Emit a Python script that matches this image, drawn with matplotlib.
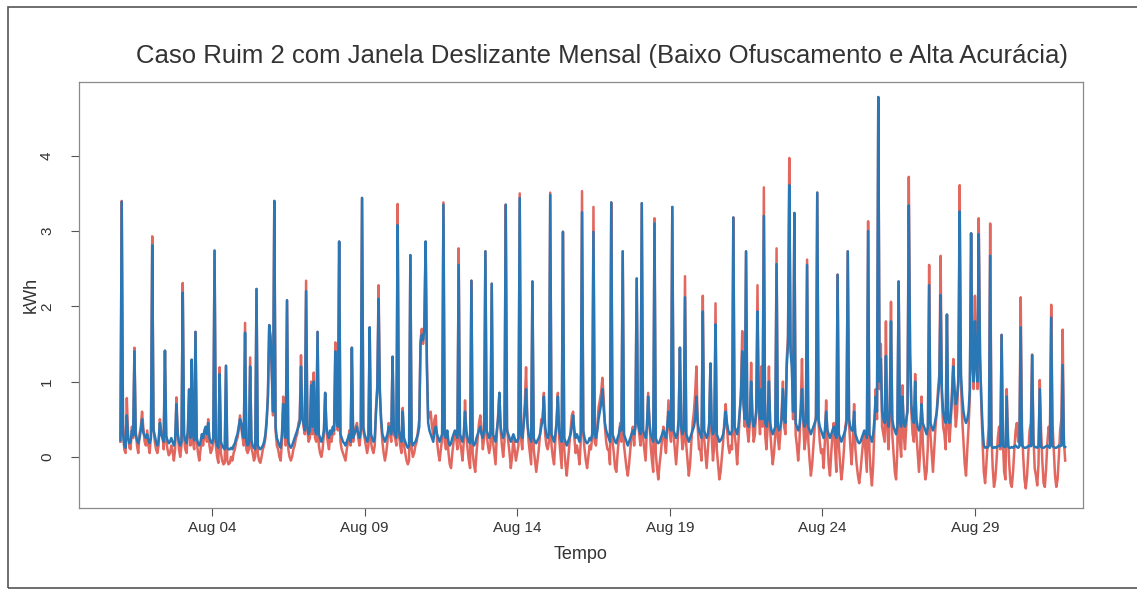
import numpy as np
import pandas as pd
import matplotlib
matplotlib.use('Agg')
import matplotlib.pyplot as plt
import matplotlib.dates as mdates
from matplotlib.patches import Rectangle

plt.rcParams['font.family'] = ['Liberation Sans', 'DejaVu Sans']

# hourly consumption, one row per day (Aug 01 .. Aug 31), 24 values each
# blue: original series
original_kwh = [
    [0.22, 3.39, 0.30, 0.15, 0.12, 0.55, 0.25, 0.18, 0.20, 0.35, 0.28, 1.40, 0.30, 0.22, 0.18, 0.25, 0.35, 0.50, 0.32, 0.28, 0.25, 0.30, 0.22, 0.18],
    [0.25, 2.81, 0.35, 0.28, 0.20, 0.15, 0.22, 0.45, 0.30, 0.25, 0.20, 1.41, 0.28, 0.22, 0.18, 0.20, 0.25, 0.20, 0.15, 0.22, 0.70, 0.30, 0.20, 0.15],
    [0.20, 2.18, 0.30, 0.22, 0.18, 0.35, 0.89, 0.25, 1.29, 0.30, 0.22, 1.66, 0.25, 0.18, 0.15, 0.20, 0.30, 0.25, 0.35, 0.40, 0.30, 0.45, 0.25, 0.20],
    [0.18, 0.25, 2.74, 0.22, 0.15, 0.12, 1.10, 0.20, 0.15, 0.12, 0.10, 1.21, 0.12, 0.10, 0.10, 0.12, 0.10, 0.15, 0.18, 0.25, 0.30, 0.40, 0.50, 0.45],
    [0.30, 0.25, 1.65, 0.20, 0.15, 0.18, 1.20, 0.22, 0.15, 0.12, 0.10, 2.23, 0.15, 0.12, 0.10, 0.12, 0.15, 0.20, 0.30, 0.50, 0.80, 1.75, 1.60, 1.20],
    [0.60, 3.40, 0.40, 0.25, 0.20, 0.15, 0.12, 0.30, 0.70, 0.35, 0.25, 2.08, 0.20, 0.15, 0.12, 0.15, 0.20, 0.25, 0.30, 0.35, 0.40, 0.45, 1.20, 0.50],
    [0.45, 0.35, 2.20, 0.40, 0.30, 0.35, 0.95, 0.40, 1.00, 0.35, 0.30, 1.66, 0.30, 0.25, 0.20, 0.25, 0.35, 0.85, 0.40, 0.30, 0.25, 0.35, 0.30, 0.40],
    [0.35, 1.40, 0.50, 0.40, 2.86, 0.30, 0.25, 0.20, 0.18, 0.15, 0.20, 0.25, 0.30, 0.20, 1.45, 0.25, 0.30, 0.35, 0.40, 0.30, 0.25, 0.35, 3.44, 0.40],
    [0.30, 0.25, 0.20, 0.25, 1.72, 0.30, 0.25, 0.20, 0.25, 0.60, 0.90, 2.10, 0.85, 0.50, 0.30, 0.25, 0.20, 0.25, 0.30, 0.40, 0.35, 0.30, 1.33, 0.35],
    [0.30, 0.25, 3.08, 0.35, 0.25, 0.20, 0.60, 0.25, 0.20, 0.15, 0.12, 0.15, 2.68, 0.20, 0.15, 0.18, 0.20, 0.25, 0.30, 0.40, 1.50, 1.62, 1.55, 1.70],
    [2.86, 1.20, 0.45, 0.35, 0.30, 0.25, 0.20, 0.35, 0.40, 0.30, 0.25, 0.20, 0.25, 0.30, 3.35, 0.30, 0.25, 0.35, 0.20, 0.15, 0.18, 0.25, 0.30, 0.35],
    [0.30, 0.25, 2.55, 0.30, 0.25, 0.20, 0.30, 0.60, 0.35, 0.25, 0.20, 0.18, 2.34, 0.20, 0.15, 0.18, 0.25, 0.30, 0.35, 0.40, 0.30, 0.25, 0.35, 2.73],
    [0.35, 0.30, 0.25, 0.30, 2.30, 0.30, 0.25, 0.20, 0.35, 0.50, 0.85, 0.40, 0.30, 0.25, 0.30, 3.35, 0.35, 0.30, 0.25, 0.20, 0.25, 0.30, 0.25, 0.20],
    [0.20, 0.25, 3.44, 0.30, 0.25, 0.40, 0.60, 0.90, 0.45, 0.30, 0.25, 0.20, 2.33, 0.25, 0.20, 0.18, 0.22, 0.25, 0.30, 0.40, 0.50, 0.80, 0.40, 0.30],
    [0.25, 0.30, 3.48, 0.30, 0.25, 0.20, 0.30, 0.45, 0.80, 0.35, 0.25, 0.20, 2.99, 0.25, 0.20, 0.15, 0.20, 0.25, 0.30, 0.40, 0.55, 0.35, 0.25, 0.30],
    [0.25, 0.20, 0.30, 3.25, 0.35, 0.25, 0.20, 0.18, 0.20, 0.25, 0.22, 0.30, 2.99, 0.30, 0.25, 0.35, 0.50, 0.60, 0.70, 0.90, 0.65, 0.45, 0.35, 0.30],
    [0.25, 0.20, 3.38, 0.30, 0.25, 0.20, 0.18, 0.25, 0.30, 0.40, 0.35, 2.73, 0.30, 0.25, 0.20, 0.15, 0.20, 0.25, 0.30, 0.35, 0.30, 0.40, 2.37, 0.45],
    [0.35, 0.30, 3.37, 0.35, 0.30, 0.25, 0.40, 0.80, 0.45, 0.30, 0.25, 0.20, 3.10, 0.25, 0.20, 0.18, 0.20, 0.25, 0.30, 0.35, 0.30, 0.25, 0.40, 0.60],
    [0.40, 0.35, 3.32, 0.35, 0.30, 0.25, 0.30, 0.50, 1.45, 0.40, 0.30, 0.35, 2.12, 0.30, 0.25, 0.20, 0.25, 0.30, 0.35, 0.40, 0.50, 0.80, 0.45, 0.35],
    [0.30, 0.25, 1.93, 0.35, 0.30, 0.25, 0.30, 0.45, 1.24, 0.40, 0.30, 0.35, 1.76, 0.30, 0.25, 0.20, 0.22, 0.25, 0.30, 0.40, 0.60, 0.45, 0.35, 0.30],
    [0.30, 0.35, 3.18, 0.40, 0.35, 0.30, 0.40, 0.60, 0.80, 1.40, 0.70, 0.50, 2.73, 0.45, 0.40, 0.50, 1.00, 0.55, 0.40, 0.45, 0.60, 1.93, 0.70, 0.50],
    [0.90, 0.50, 3.20, 0.45, 0.40, 0.50, 1.00, 0.45, 0.35, 0.30, 0.35, 0.40, 2.56, 0.40, 0.35, 0.40, 0.50, 0.90, 0.50, 0.45, 1.20, 1.50, 3.61, 1.40],
    [1.20, 0.60, 3.24, 0.45, 0.40, 0.35, 0.40, 0.60, 0.90, 0.50, 0.40, 0.45, 2.55, 0.40, 0.35, 0.30, 0.35, 0.40, 0.45, 0.50, 3.51, 0.50, 0.40, 0.35],
    [0.30, 0.25, 0.35, 0.60, 0.35, 0.30, 0.25, 0.30, 0.35, 0.40, 0.30, 0.25, 2.42, 0.30, 0.25, 0.20, 0.25, 0.30, 0.35, 0.45, 2.73, 0.50, 0.40, 0.35],
    [0.35, 0.60, 0.30, 0.25, 0.20, 0.18, 0.20, 0.25, 0.30, 0.35, 0.30, 0.25, 3.00, 0.30, 0.25, 0.20, 0.30, 0.50, 0.80, 0.60, 4.78, 1.00, 1.30, 0.60],
    [0.50, 0.45, 1.34, 0.50, 0.40, 0.60, 1.80, 0.50, 0.40, 0.35, 0.30, 0.40, 2.33, 0.45, 0.40, 0.80, 0.45, 0.40, 0.50, 0.60, 3.34, 1.35, 0.70, 0.50],
    [0.45, 1.00, 0.50, 0.40, 0.35, 0.40, 0.70, 0.45, 0.40, 0.35, 0.30, 0.40, 2.28, 0.45, 0.40, 0.35, 0.40, 0.50, 0.60, 0.80, 1.00, 2.15, 0.90, 0.60],
    [0.50, 0.45, 1.89, 0.50, 0.45, 0.55, 0.80, 1.20, 0.90, 0.70, 0.80, 1.00, 3.26, 1.10, 0.80, 0.60, 0.50, 0.45, 0.50, 0.60, 0.90, 2.97, 1.20, 1.00],
    [1.80, 1.20, 1.00, 2.96, 1.30, 0.80, 0.40, 0.15, 0.12, 0.13, 0.12, 0.15, 2.67, 0.15, 0.12, 0.12, 0.13, 0.12, 0.14, 0.15, 0.14, 1.62, 0.15, 0.13],
    [0.13, 0.80, 0.14, 0.12, 0.12, 0.13, 0.12, 0.14, 0.15, 0.13, 0.12, 0.14, 1.72, 0.15, 0.13, 0.12, 0.12, 0.13, 0.14, 0.15, 0.14, 1.35, 0.15, 0.13],
    [0.13, 0.12, 0.14, 0.90, 0.13, 0.12, 0.12, 0.13, 0.14, 0.15, 0.13, 0.12, 1.85, 0.14, 0.13, 0.12, 0.12, 0.13, 0.15, 0.14, 0.15, 1.22, 0.14, 0.13],
]

# red: obfuscated series
ofuscado_kwh = [
    [0.20, 3.40, 0.45, 0.10, 0.05, 0.78, 0.30, 0.12, 0.10, 0.40, 0.25, 1.45, 0.35, 0.15, 0.05, 0.30, 0.40, 0.60, 0.38, 0.20, 0.15, 0.35, 0.15, 0.05],
    [0.30, 2.93, 0.40, 0.20, 0.10, 0.05, 0.15, 0.50, 0.35, 0.30, 0.10, 1.41, 0.20, 0.10, 0.02, 0.05, 0.15, 0.08, -0.05, 0.10, 0.79, 0.35, 0.10, 0.00],
    [0.15, 2.31, 0.25, 0.10, 0.05, 0.30, 0.90, 0.15, 1.29, 0.20, 0.10, 1.66, 0.20, 0.05, -0.05, 0.10, 0.25, 0.15, 0.30, 0.35, 0.20, 0.50, 0.15, 0.05],
    [0.10, 0.20, 2.74, 0.15, 0.00, -0.08, 1.19, 0.05, -0.05, -0.10, -0.08, 1.21, -0.05, -0.10, -0.08, 0.00, -0.05, 0.05, 0.10, 0.20, 0.25, 0.35, 0.55, 0.40],
    [0.25, 0.15, 1.78, 0.10, 0.05, 0.10, 1.32, 0.12, 0.05, -0.05, 0.00, 2.23, 0.05, -0.05, -0.08, 0.00, 0.10, 0.15, 0.25, 0.45, 0.85, 1.75, 1.55, 1.10],
    [0.55, 3.40, 0.35, 0.15, 0.10, 0.00, -0.05, 0.20, 0.80, 0.30, 0.15, 2.08, 0.10, 0.00, -0.05, 0.00, 0.10, 0.15, 0.25, 0.30, 0.45, 0.50, 1.35, 0.55],
    [0.40, 0.30, 2.34, 0.35, 0.20, 0.25, 1.00, 0.30, 1.12, 0.25, 0.20, 1.66, 0.15, 0.05, 0.00, 0.10, 0.30, 0.85, 0.35, 0.20, 0.10, 0.30, 0.20, 0.35],
    [0.30, 1.52, 0.45, 0.35, 2.86, 0.20, 0.10, 0.05, 0.00, -0.05, 0.10, 0.20, 0.35, 0.15, 1.45, 0.20, 0.35, 0.40, 0.45, 0.25, 0.15, 0.30, 3.44, 0.35],
    [0.25, 0.15, 0.05, 0.15, 1.72, 0.20, 0.10, 0.05, 0.15, 0.65, 0.95, 2.28, 0.90, 0.45, 0.20, 0.05, -0.05, 0.05, 0.20, 0.45, 0.30, 0.20, 1.33, 0.30],
    [0.25, 0.15, 3.36, 0.30, 0.15, 0.05, 0.65, 0.15, 0.05, -0.05, -0.10, -0.05, 2.68, 0.10, 0.00, 0.05, 0.15, 0.20, 0.35, 0.50, 1.55, 1.70, 1.50, 1.75],
    [2.86, 1.25, 0.50, 0.55, 0.60, 0.40, 0.30, 0.50, 0.55, 0.20, 0.05, -0.05, 0.10, 0.25, 3.38, 0.20, 0.10, 0.30, 0.05, -0.10, -0.15, 0.05, 0.20, 0.30],
    [0.25, 0.10, 2.77, 0.20, 0.10, -0.05, 0.20, 0.75, 0.30, 0.10, -0.05, -0.15, 2.34, 0.05, -0.10, -0.20, 0.05, 0.25, 0.45, 0.55, 0.35, 0.10, 0.25, 2.73],
    [0.30, 0.15, 0.05, 0.15, 2.30, 0.20, 0.05, -0.10, 0.30, 0.55, 0.85, 0.35, 0.15, 0.00, 0.20, 3.35, 0.40, 0.20, 0.05, -0.15, 0.00, 0.25, 0.10, -0.05],
    [0.05, 0.15, 3.50, 0.25, 0.10, 0.45, 0.70, 1.19, 0.50, 0.20, 0.05, -0.10, 2.33, 0.10, -0.05, -0.20, -0.05, 0.10, 0.30, 0.50, 0.45, 0.85, 0.30, 0.15],
    [0.10, 0.20, 3.51, 0.15, 0.00, -0.10, 0.20, 0.50, 0.85, 0.25, 0.05, -0.15, 2.99, 0.10, -0.10, -0.25, -0.05, 0.15, 0.35, 0.55, 0.60, 0.25, 0.05, 0.15],
    [0.05, -0.10, 0.20, 3.53, 0.30, 0.10, -0.05, -0.15, 0.00, 0.15, 0.10, 0.25, 3.32, 0.20, 0.15, 0.40, 0.65, 0.75, 0.85, 1.05, 0.80, 0.40, 0.20, 0.10],
    [0.10, -0.10, 3.38, 0.20, 0.05, -0.15, -0.20, 0.05, 0.25, 0.45, 0.20, 2.73, 0.15, 0.00, -0.15, -0.25, -0.10, 0.10, 0.30, 0.40, 0.15, 0.45, 2.37, 0.50],
    [0.30, 0.15, 3.37, 0.25, 0.10, -0.05, 0.35, 0.85, 0.50, 0.15, -0.05, -0.20, 3.17, 0.05, -0.15, -0.30, -0.10, 0.05, 0.25, 0.40, 0.20, 0.05, 0.35, 0.75],
    [0.35, 0.20, 3.32, 0.30, 0.10, -0.10, 0.15, 0.45, 1.45, 0.35, 0.10, 0.20, 2.40, 0.15, -0.05, -0.25, -0.10, 0.20, 0.45, 0.60, 0.85, 1.20, 0.40, 0.10],
    [0.10, -0.05, 2.14, 0.25, 0.05, -0.15, 0.10, 0.35, 1.24, 0.25, -0.05, 0.15, 2.04, 0.10, -0.10, -0.30, -0.20, 0.00, 0.20, 0.50, 0.70, 0.40, 0.15, 0.05],
    [0.15, 0.10, 3.18, 0.30, 0.15, -0.10, 0.20, 0.55, 0.90, 1.67, 0.75, 0.40, 2.73, 0.35, 0.20, 0.45, 1.25, 0.50, 0.20, 0.30, 0.65, 2.28, 0.60, 0.30],
    [1.20, 0.40, 3.58, 0.30, 0.10, 0.40, 1.20, 0.35, 0.10, -0.10, 0.05, 0.30, 2.77, 0.25, 0.10, 0.30, 0.60, 1.00, 0.40, 0.30, 1.30, 1.60, 3.97, 1.50],
    [1.30, 0.50, 3.24, 0.30, 0.15, -0.05, 0.20, 0.65, 1.30, 0.45, 0.10, 0.25, 2.62, 0.20, -0.05, -0.25, -0.10, 0.15, 0.40, 0.55, 3.51, 0.45, 0.20, 0.05],
    [0.10, -0.15, 0.20, 0.75, 0.25, -0.10, -0.25, 0.05, 0.30, 0.45, 0.10, -0.20, 2.42, 0.15, -0.10, -0.30, -0.15, 0.10, 0.40, 0.50, 2.73, 0.45, 0.15, -0.10],
    [0.20, 0.70, 0.10, -0.10, -0.25, -0.35, -0.20, 0.00, 0.20, 0.30, 0.05, -0.20, 3.13, 0.10, -0.20, -0.38, -0.10, 0.40, 0.90, 0.50, 4.78, 0.90, 1.50, 0.40],
    [0.30, 0.20, 1.80, 0.40, 0.10, 0.50, 2.06, 0.30, 0.05, -0.20, -0.30, 0.10, 2.33, 0.20, 0.00, 0.95, 0.30, 0.10, 0.40, 0.70, 3.72, 1.40, 0.60, 0.30],
    [0.20, 1.10, 0.30, 0.05, -0.20, 0.10, 0.80, 0.20, -0.10, -0.30, -0.20, 0.15, 2.55, 0.30, 0.05, -0.20, 0.10, 0.40, 0.60, 0.90, 1.10, 2.67, 0.80, 0.40],
    [0.30, 0.10, 1.89, 0.40, 0.20, 0.45, 0.90, 1.30, 0.70, 0.40, 0.60, 1.10, 3.61, 1.00, 0.50, 0.20, -0.10, -0.25, 0.10, 0.40, 0.80, 2.97, 1.30, 0.90],
    [2.14, 1.30, 0.90, 3.17, 1.40, 0.70, 0.20, -0.20, -0.35, -0.10, 0.20, 0.40, 3.10, 0.30, -0.15, -0.40, -0.30, -0.05, 0.25, 0.40, 0.10, 1.62, 0.20, -0.20],
    [-0.30, 0.90, 0.30, -0.10, -0.35, -0.40, -0.20, 0.10, 0.35, 0.45, 0.20, 0.30, 2.12, 0.40, 0.00, -0.30, -0.42, -0.25, 0.05, 0.35, 0.45, 1.36, 0.30, -0.15],
    [-0.25, -0.38, -0.10, 1.02, 0.35, -0.05, -0.35, -0.40, -0.15, 0.20, 0.40, 0.30, 2.02, 0.45, 0.10, -0.25, -0.40, -0.30, 0.00, 0.35, 0.50, 1.69, 0.20, -0.05],
]

start = '2023-08-01 00:00'
tick_days = ['2023-08-04', '2023-08-09', '2023-08-14', '2023-08-19', '2023-08-24', '2023-08-29']

blue = np.concatenate(original_kwh)
red = np.concatenate(ofuscado_kwh)
tempo = pd.date_range(start, periods=len(blue), freq='h')

fig = plt.figure(figsize=(11.37, 5.91), dpi=100)
ax = fig.add_axes([79 / 1137, 1 - 508 / 591, (1083 - 79) / 1137, (508 - 82) / 591])

ax.plot(tempo, red, color='#e2685f', lw=1.8)
ax.plot(tempo, blue, color='#2a77b6', lw=1.8)

ax.set_xlim(pd.Timestamp('2023-07-30 15:24'), pd.Timestamp('2023-09-01 13:00'))
ax.set_ylim(-0.68, 4.98)

ax.set_xticks(pd.to_datetime(tick_days))
ax.xaxis.set_major_formatter(mdates.DateFormatter('%b %d'))
ax.set_yticks([0, 1, 2, 3, 4])
ax.tick_params(axis='both', direction='out', length=6, width=0.8,
               color='#555555', labelcolor='#333333', labelsize=11)
ax.tick_params(axis='y', labelrotation=90, pad=12)
for lab in ax.get_yticklabels():
    lab.set_va('center')

for s in ax.spines.values():
    s.set_color('#8a8a8a')
    s.set_linewidth(0.9)

ax.set_xlabel('Tempo', fontsize=13, color='#333333', labelpad=8)
ax.set_ylabel('kWh', fontsize=13, color='#333333', labelpad=0)
fig.text(602 / 1137, 1 - 56 / 591,
         'Caso Ruim 2 com Janela Deslizante Mensal (Baixo Ofuscamento e Alta Acurácia)',
         ha='center', va='center', fontsize=18.5, color='#333333')

# outer frame of the figure
fig.patches.append(Rectangle((8 / 1137, 3 / 591), 1.0, 581 / 591,
                             transform=fig.transFigure, fill=False,
                             edgecolor='#555555', lw=1.2))

fig.savefig('out.png', dpi=100)
